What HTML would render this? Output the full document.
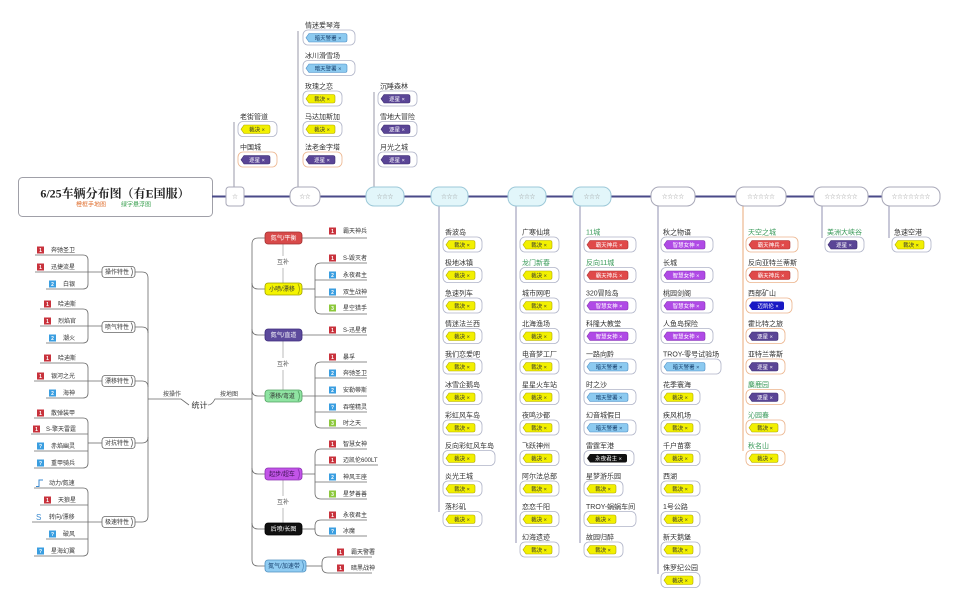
<!DOCTYPE html>
<html><head><meta charset="utf-8"><style>
html,body{margin:0;padding:0;background:#fff;}
body{width:960px;height:606px;overflow:hidden;}
svg{display:block;font-family:"Liberation Sans","Noto Sans CJK SC",sans-serif;}
.l{font-size:7px;fill:#333}
.g{fill:#3a9a5a}
.t{font-size:5.5px;text-anchor:middle;fill:#333}
.tw{fill:#fff}
.tb{fill:#17406e}
.s{font-size:6px;fill:#333}
.n{font-size:5px;fill:#fff;text-anchor:middle;font-weight:bold}
.nt{font-size:6px;text-anchor:middle;fill:#333}
.st{font-size:5.5px;fill:#999;text-anchor:middle}
.ln{fill:none;stroke:#6a6a6a;stroke-width:.8}
</style></head><body>
<svg width="960" height="606" viewBox="0 0 960 606" xmlns="http://www.w3.org/2000/svg">
<defs>
<rect id="b39" x="-2" y="5" width="39" height="15" rx="5" fill="#fff" stroke="#b0b4c8" stroke-width=".8"/>
<rect id="b46" x="-2" y="5" width="46" height="15" rx="5" fill="#fff" stroke="#b0b4c8" stroke-width=".8"/>
<rect id="b50" x="-2" y="5" width="50" height="15" rx="5" fill="#fff" stroke="#b0b4c8" stroke-width=".8"/>
<rect id="b52" x="-2" y="5" width="52" height="15" rx="5" fill="#fff" stroke="#b0b4c8" stroke-width=".8"/>
<rect id="b60" x="-2" y="5" width="60" height="15" rx="5" fill="#fff" stroke="#b0b4c8" stroke-width=".8"/>
<rect id="o39" x="-2" y="5" width="39" height="15" rx="5" fill="#fff" stroke="#ecb48c" stroke-width=".8"/>
<rect id="o46" x="-2" y="5" width="46" height="15" rx="5" fill="#fff" stroke="#ecb48c" stroke-width=".8"/>
<rect id="o52" x="-2" y="5" width="52" height="15" rx="5" fill="#fff" stroke="#ecb48c" stroke-width=".8"/>
<path id="tY" d="M4,8.5H28Q30,8.5 30,10.5V15Q30,17 28,17H4L1,12.75Z" fill="#f2f000" stroke="#b0a800" stroke-width=".6"/>
<path id="tD" d="M4,8.5H28Q30,8.5 30,10.5V15Q30,17 28,17H4L1,12.75Z" fill="#5a4596" stroke="#3a2a70" stroke-width=".6"/>
<path id="tR" d="M4,8.5H40Q42,8.5 42,10.5V15Q42,17 40,17H4L1,12.75Z" fill="#e04a4a" stroke="#a83232" stroke-width=".6"/>
<path id="tP" d="M4,8.5H40Q42,8.5 42,10.5V15Q42,17 40,17H4L1,12.75Z" fill="#b04ae6" stroke="#8030b0" stroke-width=".6"/>
<path id="tB" d="M4,8.5H40Q42,8.5 42,10.5V15Q42,17 40,17H4L1,12.75Z" fill="#8ccaf0" stroke="#4a8cc4" stroke-width=".6"/>
<path id="tN" d="M4,8.5H34Q36,8.5 36,10.5V15Q36,17 34,17H4L1,12.75Z" fill="#1818c4"/>
<path id="tK" d="M4,8.5H39Q41,8.5 41,10.5V15Q41,17 39,17H4L1,12.75Z" fill="#111"/>
</defs>

<!-- title -->
<rect x="18.5" y="177.5" width="194" height="39" rx="4" fill="#fff" stroke="#a0a0a8" stroke-width="1"/>
<text x="115" y="197.5" text-anchor="middle" style="font:bold 12px 'Liberation Serif','Noto Serif CJK SC',serif;fill:#222">6/25车辆分布图（有E国服）</text>
<text x="76" y="206.5" style="font-size:6px;fill:#e07030">橙框手地图</text>
<text x="121" y="206.5" style="font-size:6px;fill:#3aa050">绿字悬浮图</text>

<!-- main line -->
<path d="M212,196.5H882" stroke="#4a4a88" stroke-width="2" fill="none"/>

<!-- vertical lines columns -->
<g fill="none" stroke-width="1">
<path d="M234,187V122" stroke="#9a9aaa"/>
<path d="M298,187V31" stroke="#9a9aaa"/>
<path d="M374,187V92" stroke="#9a9aaa"/>
<path d="M439,206V512" stroke="#9090b0"/>
<path d="M516,206V543" stroke="#9090b0"/>
<path d="M580,206V543" stroke="#9090b0"/>
<path d="M658,206V574" stroke="#9090b0"/>
<path d="M743,206V451" stroke="#e8a878"/>
<path d="M822,206V238" stroke="#9090b0"/>
<path d="M889,206V238" stroke="#9090b0"/>
</g>

<!-- star boxes -->
<rect x="226" y="187" width="18" height="19" rx="3" fill="#fff" stroke="#a8a8b8"/>
<text class="st" x="235" y="198.5">☆</text>
<rect x="290" y="187" width="30" height="19" rx="8" fill="#fff" stroke="#a8a8b8"/>
<text class="st" x="305" y="198.5">☆☆</text>
<rect x="366" y="187" width="38" height="19" rx="8" fill="#e2f6fa" stroke="#9cc8d8"/>
<text class="st" x="385" y="198.5">☆☆☆</text>
<rect x="431" y="187" width="37" height="19" rx="8" fill="#e2f6fa" stroke="#9cc8d8"/>
<text class="st" x="449.5" y="198.5">☆☆☆</text>
<rect x="508" y="187" width="38" height="19" rx="8" fill="#e2f6fa" stroke="#9cc8d8"/>
<text class="st" x="527" y="198.5">☆☆☆</text>
<rect x="573" y="187" width="38" height="19" rx="8" fill="#e2f6fa" stroke="#9cc8d8"/>
<text class="st" x="592" y="198.5">☆☆☆</text>
<rect x="651" y="187" width="44" height="19" rx="8" fill="#fff" stroke="#a8a8b8"/>
<text class="st" x="673" y="198.5">☆☆☆☆</text>
<rect x="736" y="187" width="50" height="19" rx="8" fill="#fff" stroke="#a8a8b8"/>
<text class="st" x="761" y="198.5">☆☆☆☆☆</text>
<rect x="814" y="187" width="54" height="19" rx="8" fill="#fff" stroke="#a8a8b8"/>
<text class="st" x="841" y="198.5">☆☆☆☆☆☆</text>
<rect x="882" y="187" width="58" height="19" rx="8" fill="#fff" stroke="#a8a8b8"/>
<text class="st" x="911" y="198.5">☆☆☆☆☆☆☆</text>

<!-- top: ☆ -->
<use href="#b39" x="240" y="116.5"/><use href="#tY" x="240" y="116.5"/><text class="l" x="240" y="119">老街管道</text><text class="t" x="257" y="131.25">裁决 ×</text>
<use href="#o39" x="240" y="147"/><use href="#tD" x="240" y="147"/><text class="l" x="240" y="149.5">中国城</text><text class="t tw" x="257" y="161.75">逐星 ×</text>
<!-- top: ☆☆ -->
<use href="#b52" x="305" y="25"/><use href="#tB" x="305" y="25"/><text class="l" x="305" y="27.5">情迷爱琴海</text><text class="t tb" x="328" y="39.75">暗天警署 ×</text>
<use href="#b52" x="305" y="55.5"/><use href="#tB" x="305" y="55.5"/><text class="l" x="305" y="58">冰川滑雪场</text><text class="t tb" x="328" y="70.25">暗天警署 ×</text>
<use href="#b39" x="305" y="86"/><use href="#tY" x="305" y="86"/><text class="l" x="305" y="88.5">玫瑰之恋</text><text class="t" x="322" y="100.75">裁决 ×</text>
<use href="#b39" x="305" y="116.5"/><use href="#tY" x="305" y="116.5"/><text class="l" x="305" y="119">马达加斯加</text><text class="t" x="322" y="131.25">裁决 ×</text>
<use href="#o39" x="305" y="147"/><use href="#tD" x="305" y="147"/><text class="l" x="305" y="149.5">法老金字塔</text><text class="t tw" x="322" y="161.75">逐星 ×</text>
<!-- top: ☆☆☆ -->
<use href="#b39" x="380" y="86"/><use href="#tD" x="380" y="86"/><text class="l" x="380" y="88.5">沉睡森林</text><text class="t tw" x="397" y="100.75">逐星 ×</text>
<use href="#b39" x="380" y="116.5"/><use href="#tD" x="380" y="116.5"/><text class="l" x="380" y="119">雪地大冒险</text><text class="t tw" x="397" y="131.25">逐星 ×</text>
<use href="#b39" x="380" y="147"/><use href="#tD" x="380" y="147"/><text class="l" x="380" y="149.5">月光之城</text><text class="t tw" x="397" y="161.75">逐星 ×</text>

<!-- col1 -->
<use href="#b39" x="445" y="232"/><use href="#tY" x="445" y="232"/><text class="l" x="445" y="234.5">香波岛</text><text class="t" x="462" y="246.75">裁决 ×</text>
<use href="#b39" x="445" y="262.5"/><use href="#tY" x="445" y="262.5"/><text class="l" x="445" y="265">极地冰镇</text><text class="t" x="462" y="277.25">裁决 ×</text>
<use href="#b39" x="445" y="293"/><use href="#tY" x="445" y="293"/><text class="l" x="445" y="295.5">急速列车</text><text class="t" x="462" y="307.75">裁决 ×</text>
<use href="#b39" x="445" y="323.5"/><use href="#tY" x="445" y="323.5"/><text class="l" x="445" y="326">情迷法兰西</text><text class="t" x="462" y="338.25">裁决 ×</text>
<use href="#b39" x="445" y="354"/><use href="#tY" x="445" y="354"/><text class="l" x="445" y="356.5">我们恋爱吧</text><text class="t" x="462" y="368.75">裁决 ×</text>
<use href="#b39" x="445" y="384.5"/><use href="#tY" x="445" y="384.5"/><text class="l" x="445" y="387">冰雪企鹅岛</text><text class="t" x="462" y="399.25">裁决 ×</text>
<use href="#b39" x="445" y="415"/><use href="#tY" x="445" y="415"/><text class="l" x="445" y="417.5">彩虹风车岛</text><text class="t" x="462" y="429.75">裁决 ×</text>
<use href="#b52" x="445" y="445.5"/><use href="#tY" x="445" y="445.5"/><text class="l" x="445" y="448">反向彩虹风车岛</text><text class="t" x="462" y="460.25">裁决 ×</text>
<use href="#b39" x="445" y="476"/><use href="#tY" x="445" y="476"/><text class="l" x="445" y="478.5">炎光王城</text><text class="t" x="462" y="490.75">裁决 ×</text>
<use href="#b39" x="445" y="506.5"/><use href="#tY" x="445" y="506.5"/><text class="l" x="445" y="509">落杉矶</text><text class="t" x="462" y="521.25">裁决 ×</text>

<!-- col2 -->
<use href="#b39" x="522" y="232"/><use href="#tY" x="522" y="232"/><text class="l" x="522" y="234.5">广寒仙境</text><text class="t" x="539" y="246.75">裁决 ×</text>
<use href="#b39" x="522" y="262.5"/><use href="#tY" x="522" y="262.5"/><text class="l g" x="522" y="265">龙门新春</text><text class="t" x="539" y="277.25">裁决 ×</text>
<use href="#b39" x="522" y="293"/><use href="#tY" x="522" y="293"/><text class="l" x="522" y="295.5">城市网吧</text><text class="t" x="539" y="307.75">裁决 ×</text>
<use href="#b39" x="522" y="323.5"/><use href="#tY" x="522" y="323.5"/><text class="l" x="522" y="326">北海渔场</text><text class="t" x="539" y="338.25">裁决 ×</text>
<use href="#b39" x="522" y="354"/><use href="#tY" x="522" y="354"/><text class="l" x="522" y="356.5">电音梦工厂</text><text class="t" x="539" y="368.75">裁决 ×</text>
<use href="#b39" x="522" y="384.5"/><use href="#tY" x="522" y="384.5"/><text class="l" x="522" y="387">星星火车站</text><text class="t" x="539" y="399.25">裁决 ×</text>
<use href="#b39" x="522" y="415"/><use href="#tY" x="522" y="415"/><text class="l" x="522" y="417.5">夜鸣沙都</text><text class="t" x="539" y="429.75">裁决 ×</text>
<use href="#b39" x="522" y="445.5"/><use href="#tY" x="522" y="445.5"/><text class="l" x="522" y="448">飞跃神州</text><text class="t" x="539" y="460.25">裁决 ×</text>
<use href="#b39" x="522" y="476"/><use href="#tY" x="522" y="476"/><text class="l" x="522" y="478.5">阿尔法总部</text><text class="t" x="539" y="490.75">裁决 ×</text>
<use href="#b39" x="522" y="506.5"/><use href="#tY" x="522" y="506.5"/><text class="l" x="522" y="509">恋恋千阳</text><text class="t" x="539" y="521.25">裁决 ×</text>
<use href="#b39" x="522" y="537"/><use href="#tY" x="522" y="537"/><text class="l" x="522" y="539.5">幻海遗迹</text><text class="t" x="539" y="551.75">裁决 ×</text>

<!-- col3 -->
<use href="#b52" x="586" y="232"/><use href="#tR" x="586" y="232"/><text class="l g" x="586" y="234.5">11城</text><text class="t tw" x="609" y="246.75">霸天神兵 ×</text>
<use href="#b52" x="586" y="262.5"/><use href="#tR" x="586" y="262.5"/><text class="l g" x="586" y="265">反向11城</text><text class="t tw" x="609" y="277.25">霸天神兵 ×</text>
<use href="#b52" x="586" y="293"/><use href="#tP" x="586" y="293"/><text class="l" x="586" y="295.5">320冒险岛</text><text class="t tw" x="609" y="307.75">智慧女神 ×</text>
<use href="#b52" x="586" y="323.5"/><use href="#tP" x="586" y="323.5"/><text class="l" x="586" y="326">科隆大教堂</text><text class="t tw" x="609" y="338.25">智慧女神 ×</text>
<use href="#b52" x="586" y="354"/><use href="#tB" x="586" y="354"/><text class="l" x="586" y="356.5">一路向黔</text><text class="t tb" x="609" y="368.75">暗天警署 ×</text>
<use href="#b52" x="586" y="384.5"/><use href="#tB" x="586" y="384.5"/><text class="l" x="586" y="387">时之沙</text><text class="t tb" x="609" y="399.25">暗天警署 ×</text>
<use href="#b52" x="586" y="415"/><use href="#tB" x="586" y="415"/><text class="l" x="586" y="417.5">幻音城假日</text><text class="t tb" x="609" y="429.75">暗天警署 ×</text>
<use href="#b50" x="586" y="445.5"/><use href="#tK" x="586" y="445.5"/><text class="l" x="586" y="448">雷霆军港</text><text class="t tw" x="608.5" y="460.25">永夜君主 ×</text>
<use href="#b39" x="586" y="476"/><use href="#tY" x="586" y="476"/><text class="l" x="586" y="478.5">星梦游乐园</text><text class="t" x="603" y="490.75">裁决 ×</text>
<use href="#b52" x="586" y="506.5"/><use href="#tY" x="586" y="506.5"/><text class="l" x="586" y="509">TROY-蜗蜗车间</text><text class="t" x="603" y="521.25">裁决 ×</text>
<use href="#b39" x="586" y="537"/><use href="#tY" x="586" y="537"/><text class="l" x="586" y="539.5">故园归醉</text><text class="t" x="603" y="551.75">裁决 ×</text>

<!-- col4 -->
<use href="#b52" x="663" y="232"/><use href="#tP" x="663" y="232"/><text class="l" x="663" y="234.5">秋之物语</text><text class="t tw" x="686" y="246.75">智慧女神 ×</text>
<use href="#b52" x="663" y="262.5"/><use href="#tP" x="663" y="262.5"/><text class="l" x="663" y="265">长城</text><text class="t tw" x="686" y="277.25">智慧女神 ×</text>
<use href="#b52" x="663" y="293"/><use href="#tP" x="663" y="293"/><text class="l" x="663" y="295.5">桃园剑阁</text><text class="t tw" x="686" y="307.75">智慧女神 ×</text>
<use href="#b52" x="663" y="323.5"/><use href="#tP" x="663" y="323.5"/><text class="l" x="663" y="326">人鱼岛探险</text><text class="t tw" x="686" y="338.25">智慧女神 ×</text>
<use href="#b60" x="663" y="354"/><use href="#tB" x="663" y="354"/><text class="l" x="663" y="356.5">TROY-零号试验场</text><text class="t tb" x="686" y="368.75">暗天警署 ×</text>
<use href="#b39" x="663" y="384.5"/><use href="#tY" x="663" y="384.5"/><text class="l" x="663" y="387">花季寰海</text><text class="t" x="680" y="399.25">裁决 ×</text>
<use href="#b39" x="663" y="415"/><use href="#tY" x="663" y="415"/><text class="l" x="663" y="417.5">疾风机场</text><text class="t" x="680" y="429.75">裁决 ×</text>
<use href="#b39" x="663" y="445.5"/><use href="#tY" x="663" y="445.5"/><text class="l" x="663" y="448">千户苗寨</text><text class="t" x="680" y="460.25">裁决 ×</text>
<use href="#b39" x="663" y="476"/><use href="#tY" x="663" y="476"/><text class="l" x="663" y="478.5">西湖</text><text class="t" x="680" y="490.75">裁决 ×</text>
<use href="#b39" x="663" y="506.5"/><use href="#tY" x="663" y="506.5"/><text class="l" x="663" y="509">1号公路</text><text class="t" x="680" y="521.25">裁决 ×</text>
<use href="#b39" x="663" y="537"/><use href="#tY" x="663" y="537"/><text class="l" x="663" y="539.5">新天鹅堡</text><text class="t" x="680" y="551.75">裁决 ×</text>
<use href="#b39" x="663" y="567.5"/><use href="#tY" x="663" y="567.5"/><text class="l" x="663" y="570">侏罗纪公园</text><text class="t" x="680" y="582.25">裁决 ×</text>

<!-- col5 -->
<use href="#o52" x="748" y="232"/><use href="#tR" x="748" y="232"/><text class="l g" x="748" y="234.5">天空之城</text><text class="t tw" x="771" y="246.75">霸天神兵 ×</text>
<use href="#o52" x="748" y="262.5"/><use href="#tR" x="748" y="262.5"/><text class="l" x="748" y="265">反向亚特兰蒂斯</text><text class="t tw" x="771" y="277.25">霸天神兵 ×</text>
<use href="#o46" x="748" y="293"/><use href="#tN" x="748" y="293"/><text class="l" x="748" y="295.5">西部矿山</text><text class="t tw" x="768" y="307.75">迈凯伦 ×</text>
<use href="#o39" x="748" y="323.5"/><use href="#tD" x="748" y="323.5"/><text class="l" x="748" y="326">霍比特之旅</text><text class="t tw" x="765" y="338.25">逐星 ×</text>
<use href="#o39" x="748" y="354"/><use href="#tD" x="748" y="354"/><text class="l" x="748" y="356.5">亚特兰蒂斯</text><text class="t tw" x="765" y="368.75">逐星 ×</text>
<use href="#o39" x="748" y="384.5"/><use href="#tD" x="748" y="384.5"/><text class="l g" x="748" y="387">麋鹿园</text><text class="t tw" x="765" y="399.25">逐星 ×</text>
<use href="#o39" x="748" y="415"/><use href="#tY" x="748" y="415"/><text class="l g" x="748" y="417.5">沁园春</text><text class="t" x="765" y="429.75">裁决 ×</text>
<use href="#o39" x="748" y="445.5"/><use href="#tY" x="748" y="445.5"/><text class="l g" x="748" y="448">秋名山</text><text class="t" x="765" y="460.25">裁决 ×</text>

<!-- col6, col7 -->
<use href="#b39" x="827" y="232"/><use href="#tD" x="827" y="232"/><text class="l g" x="827" y="234.5">美洲大峡谷</text><text class="t tw" x="844" y="246.75">逐星 ×</text>
<use href="#b39" x="894" y="232"/><use href="#tY" x="894" y="232"/><text class="l" x="894" y="234.5">急速空港</text><text class="t" x="911" y="246.75">裁决 ×</text>

<!-- ===== left section ===== -->
<g class="ln">
<path d="M35,255H83Q88,255 88,260V284Q88,289 83,289H46"/><path d="M35,272H102"/>
<path d="M40,309H83Q88,309 88,314V338Q88,343 83,343H46"/><path d="M40,326H102"/>
<path d="M40,363H83Q88,363 88,368V393Q88,398 83,398H46"/><path d="M34,381H102"/>
<path d="M34,418H83Q88,418 88,423V463Q88,468 83,468H34"/><path d="M31,434H88"/><path d="M34,451H88"/><path d="M88,443H102"/>
<path d="M34,488H83Q88,488 88,493V551Q88,556 83,556H34"/><path d="M40,505H88"/><path d="M32,522H102"/><path d="M46,539H88"/>
<path d="M135,272H142Q148,272 148,278V516Q148,522 142,522H135"/>
<path d="M135,327H142Q148,327 148,333"/>
<path d="M135,381H142Q148,381 148,387"/>
<path d="M135,443H142Q148,443 148,437"/>
<path d="M148,399H181L189,405"/>
<path d="M208,405Q212,405 215,399H252"/>
</g>
<text x="199.5" y="408" style="font-size:8px;fill:#333" text-anchor="middle">统计</text>
<text x="163" y="396" style="font-size:6px;fill:#444">按操作</text>
<text x="220" y="396" style="font-size:6px;fill:#444">按地图</text>

<!-- left nodes -->
<g fill="#fff" stroke="#666" stroke-width=".8">
<rect x="102" y="266.5" width="33" height="11" rx="3"/><path d="M131,267.5Q134,272 131,276.5" fill="none"/>
<rect x="102" y="321.5" width="33" height="11" rx="3"/><path d="M131,322.5Q134,327 131,331.5" fill="none"/>
<rect x="102" y="375.5" width="33" height="11" rx="3"/><path d="M131,376.5Q134,381 131,385.5" fill="none"/>
<rect x="102" y="437.5" width="33" height="11" rx="3"/><path d="M131,438.5Q134,443 131,447.5" fill="none"/>
<rect x="102" y="516.5" width="33" height="11" rx="3"/><path d="M131,517.5Q134,522 131,526.5" fill="none"/>
</g>
<text class="nt" x="117" y="274">操作特性</text>
<text class="nt" x="117" y="329">喷气特性</text>
<text class="nt" x="117" y="383">漂移特性</text>
<text class="nt" x="117" y="445">对抗特性</text>
<text class="nt" x="117" y="524">极速特性</text>

<!-- left badges -->
<g>
<rect x="37" y="246.5" width="7" height="7" fill="#c8323c"/><text class="n" x="40.5" y="252">1</text><text class="s" x="51" y="252">奔驰圣卫</text>
<rect x="37" y="263.5" width="7" height="7" fill="#c8323c"/><text class="n" x="40.5" y="269">1</text><text class="s" x="51" y="269">迅捷流星</text>
<rect x="49" y="280.5" width="7" height="7" fill="#3a9ee0"/><text class="n" x="52.5" y="286">2</text><text class="s" x="63" y="286">白银</text>

<rect x="44" y="300.5" width="7" height="7" fill="#c8323c"/><text class="n" x="47.5" y="306">1</text><text class="s" x="58" y="306">哈迪斯</text>
<rect x="44" y="317.5" width="7" height="7" fill="#c8323c"/><text class="n" x="47.5" y="323">1</text><text class="s" x="58" y="323">烈焰官</text>
<rect x="49" y="334.5" width="7" height="7" fill="#3a9ee0"/><text class="n" x="52.5" y="340">2</text><text class="s" x="63" y="340">潮火</text>

<rect x="44" y="354.5" width="7" height="7" fill="#c8323c"/><text class="n" x="47.5" y="360">1</text><text class="s" x="58" y="360">哈迪斯</text>
<rect x="37" y="372.5" width="7" height="7" fill="#c8323c"/><text class="n" x="40.5" y="378">1</text><text class="s" x="51" y="378">银河之光</text>
<rect x="49" y="389.5" width="7" height="7" fill="#3a9ee0"/><text class="n" x="52.5" y="395">2</text><text class="s" x="63" y="395">海神</text>

<rect x="37" y="409.5" width="7" height="7" fill="#c8323c"/><text class="n" x="40.5" y="415">1</text><text class="s" x="51" y="415">散弹装甲</text>
<rect x="33" y="425.5" width="7" height="7" fill="#c8323c"/><text class="n" x="36.5" y="431">1</text><text class="s" x="46" y="431">S-擎天雷霆</text>
<rect x="37" y="442.5" width="7" height="7" fill="#3a9ee0"/><text class="n" x="40.5" y="448">?</text><text class="s" x="51" y="448">赤焰幽灵</text>
<rect x="37" y="459.5" width="7" height="7" fill="#3a9ee0"/><text class="n" x="40.5" y="465">?</text><text class="s" x="51" y="465">重甲骑兵</text>

<path d="M36,486.5H39V480H43" fill="none" stroke="#3a8ad0" stroke-width="1"/><text class="s" x="49" y="485">动力/氮速</text>
<rect x="44" y="496.5" width="7" height="7" fill="#c8323c"/><text class="n" x="47.5" y="502">1</text><text class="s" x="58" y="502">天狼星</text>
<text x="36" y="520" style="font-size:8px;fill:#3a8ad0">S</text><text class="s" x="49" y="519">转向/漂移</text>
<rect x="49" y="530.5" width="7" height="7" fill="#3a9ee0"/><text class="n" x="52.5" y="536">?</text><text class="s" x="63" y="536">破风</text>
<rect x="37" y="547.5" width="7" height="7" fill="#3a9ee0"/><text class="n" x="40.5" y="553">?</text><text class="s" x="51" y="553">星海幻翼</text>
</g>

<!-- ===== middle section ===== -->
<g class="ln">
<path d="M265,238H258Q252,238 252,244V560Q252,566 258,566H265"/>
<path d="M252,283Q252,289 258,289H265"/>
<path d="M252,329Q252,335 258,335H265"/>
<path d="M252,390Q252,396 258,396H265"/>
<path d="M252,468Q252,474 258,474H265"/>
<path d="M252,523Q252,529 258,529H265"/>
<path d="M302,238H367"/>
<path d="M367,263H321Q315,263 315,269V308Q315,314 321,314H367"/><path d="M315,280H367"/><path d="M315,297H367"/><path d="M302,289H315"/>
<path d="M302,335H367"/>
<path d="M367,362H321Q315,362 315,368V422Q315,428 321,428H367"/><path d="M315,378H367"/><path d="M302,396H367"/><path d="M315,412H367"/>
<path d="M367,449H321Q315,449 315,455V493Q315,499 321,499H367"/><path d="M315,465H378"/><path d="M315,482H367"/><path d="M302,474H315"/>
<path d="M367,520H321Q315,520 315,526V530Q315,536 321,536H367"/><path d="M302,529H315"/>
<path d="M372,557H328Q322,557 322,563V567Q322,573 328,573H372"/><path d="M306,566H322"/>
</g>
<g stroke="#bbb" stroke-width="1" fill="none">
<path d="M283,244V256M283,268V283"/>
<path d="M283,341V358M283,370V390"/>
<path d="M283,480V496M283,508V523"/>
</g>
<text class="nt" x="283" y="264" style="fill:#555">互补</text>
<text class="nt" x="283" y="366" style="fill:#555">互补</text>
<text class="nt" x="283" y="504" style="fill:#555">互补</text>

<!-- middle nodes -->
<rect x="265" y="232" width="37" height="12" rx="3" fill="#d84a4a" stroke="#a03030" stroke-width=".8"/>
<text class="nt" x="283.5" y="240" style="fill:#fff">氮气/平衡</text>
<rect x="265" y="283" width="37" height="12" rx="3" fill="#f4f400" stroke="#a0a000" stroke-width=".8"/>
<path d="M298,284Q301,289 298,294" fill="none" stroke="#a0a000" stroke-width=".8"/>
<text class="nt" x="282" y="291">小喷/漂移</text>
<rect x="265" y="329" width="37" height="12" rx="3" fill="#5c4a9c" stroke="#3c2a7c" stroke-width=".8"/>
<text class="nt" x="283.5" y="337" style="fill:#fff">氮气/直道</text>
<rect x="265" y="390" width="37" height="12" rx="3" fill="#8fe4a2" stroke="#50a060" stroke-width=".8"/>
<path d="M298,391Q301,396 298,401" fill="none" stroke="#50a060" stroke-width=".8"/>
<text class="nt" x="282" y="398">漂移/弯道</text>
<rect x="265" y="468" width="37" height="12" rx="3" fill="#c254e8" stroke="#8a30b0" stroke-width=".8"/>
<path d="M298,469Q301,474 298,479" fill="none" stroke="#8a30b0" stroke-width=".8"/>
<text class="nt" x="282" y="476" style="fill:#3a1050">起步/超车</text>
<rect x="265" y="523" width="37" height="12" rx="3" fill="#111" stroke="#000" stroke-width=".8"/>
<text class="nt" x="283.5" y="531" style="fill:#fff">后喷/长图</text>
<rect x="265" y="560" width="41" height="12" rx="3" fill="#90ccf2" stroke="#5090c0" stroke-width=".8"/>
<path d="M302,561Q305,566 302,571" fill="none" stroke="#5090c0" stroke-width=".8"/>
<text class="nt" x="284" y="568" style="fill:#17406e">氮气/加速带</text>

<!-- middle children -->
<g>
<rect x="329" y="227.5" width="7" height="7" fill="#c8323c"/><text class="n" x="332.5" y="233">1</text><text class="s" x="343" y="233">霸天神兵</text>

<rect x="329" y="254.5" width="7" height="7" fill="#c8323c"/><text class="n" x="332.5" y="260">1</text><text class="s" x="343" y="260">S-毁灭者</text>
<rect x="329" y="271.5" width="7" height="7" fill="#3a9ee0"/><text class="n" x="332.5" y="277">2</text><text class="s" x="343" y="277">永夜君主</text>
<rect x="329" y="288.5" width="7" height="7" fill="#3a9ee0"/><text class="n" x="332.5" y="294">2</text><text class="s" x="343" y="294">双生战神</text>
<rect x="329" y="304.5" width="7" height="7" fill="#8cc83c"/><text class="n" x="332.5" y="310">3</text><text class="s" x="343" y="310">星空猎手</text>

<rect x="329" y="326.5" width="7" height="7" fill="#c8323c"/><text class="n" x="332.5" y="332">1</text><text class="s" x="343" y="332">S-迅星者</text>

<rect x="329" y="353.5" width="7" height="7" fill="#c8323c"/><text class="n" x="332.5" y="359">1</text><text class="s" x="343" y="359">暴孚</text>
<rect x="329" y="369.5" width="7" height="7" fill="#3a9ee0"/><text class="n" x="332.5" y="375">2</text><text class="s" x="343" y="375">奔驰圣卫</text>
<rect x="329" y="386.5" width="7" height="7" fill="#3a9ee0"/><text class="n" x="332.5" y="392">2</text><text class="s" x="343" y="392">安勒蒂斯</text>
<rect x="329" y="403.5" width="7" height="7" fill="#3a9ee0"/><text class="n" x="332.5" y="409">?</text><text class="s" x="343" y="409">吞噬精灵</text>
<rect x="329" y="419.5" width="7" height="7" fill="#8cc83c"/><text class="n" x="332.5" y="425">3</text><text class="s" x="343" y="425">时之天</text>

<rect x="329" y="440.5" width="7" height="7" fill="#c8323c"/><text class="n" x="332.5" y="446">1</text><text class="s" x="343" y="446">智慧女神</text>
<rect x="329" y="456.5" width="7" height="7" fill="#c8323c"/><text class="n" x="332.5" y="462">1</text><text class="s" x="343" y="462">迈凯伦600LT</text>
<rect x="329" y="473.5" width="7" height="7" fill="#3a9ee0"/><text class="n" x="332.5" y="479">2</text><text class="s" x="343" y="479">神风王座</text>
<rect x="329" y="490.5" width="7" height="7" fill="#8cc83c"/><text class="n" x="332.5" y="496">3</text><text class="s" x="343" y="496">星梦善善</text>

<rect x="329" y="511.5" width="7" height="7" fill="#c8323c"/><text class="n" x="332.5" y="517">1</text><text class="s" x="343" y="517">永夜君主</text>
<rect x="329" y="527.5" width="7" height="7" fill="#3a9ee0"/><text class="n" x="332.5" y="533">?</text><text class="s" x="343" y="533">冰魔</text>

<rect x="337" y="548.5" width="7" height="7" fill="#c8323c"/><text class="n" x="340.5" y="554">1</text><text class="s" x="351" y="554">霸天警署</text>
<rect x="337" y="564.5" width="7" height="7" fill="#c8323c"/><text class="n" x="340.5" y="570">1</text><text class="s" x="351" y="570">暗黑战神</text>
</g>
</svg>
</body></html>
